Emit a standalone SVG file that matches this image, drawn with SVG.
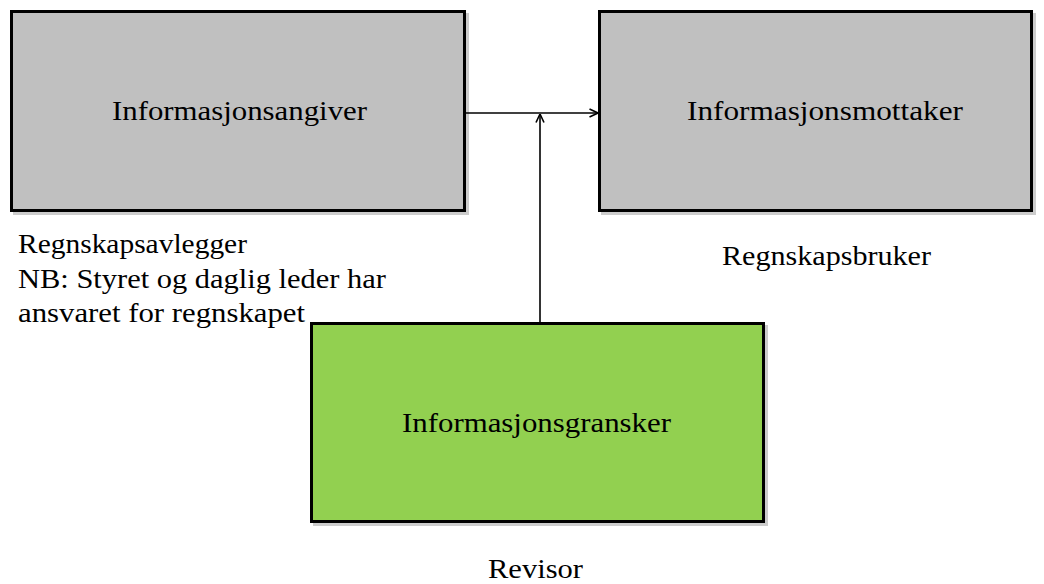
<svg xmlns="http://www.w3.org/2000/svg" width="1044" height="584" viewBox="0 0 1044 584">
  <style>
    .box { stroke: #000; stroke-width: 3; }
    .grey { fill: #c0c0c0; }
    .green { fill: #92d050; }
    .shadow { fill: #9a9a9a; opacity: 0.5; }
    .lbl { font-family: "Liberation Serif", "Times New Roman", serif; font-size: 27px; fill: #000; }
    .conn { stroke: #000; stroke-width: 1.6; fill: none; }
  </style>
  <defs>
    <marker id="open" viewBox="0 0 10 10" refX="9.5" refY="5" markerWidth="10" markerHeight="10" markerUnits="userSpaceOnUse" orient="auto">
      <path d="M1,1 L9.5,5 L1,9" fill="none" stroke="#000" stroke-width="1.6"/>
    </marker>
  </defs>
  <rect width="1044" height="584" fill="#fff"/>

  <g id="informasjonsangiver">
    <rect class="shadow" x="13" y="13" width="456" height="202"/>
    <rect class="box grey" x="11.5" y="11.5" width="453" height="199"/>
    <text class="lbl" x="112" y="120" textLength="255" lengthAdjust="spacingAndGlyphs">Informasjonsangiver</text>
  </g>

  <g id="informasjonsmottaker">
    <rect class="shadow" x="601" y="13" width="435" height="202"/>
    <rect class="box grey" x="599.5" y="11.5" width="432" height="199"/>
    <text class="lbl" x="687" y="120" textLength="276" lengthAdjust="spacingAndGlyphs">Informasjonsmottaker</text>
  </g>

  <g id="informasjonsgransker">
    <rect class="shadow" x="313" y="325" width="455" height="201"/>
    <rect class="box green" x="311.5" y="323.5" width="452" height="198"/>
    <text class="lbl" x="402" y="432" textLength="269" lengthAdjust="spacingAndGlyphs">Informasjonsgransker</text>
  </g>

  <g id="labels">
    <text class="lbl" x="18" y="253" textLength="229" lengthAdjust="spacingAndGlyphs">Regnskapsavlegger</text>
    <text class="lbl" x="18" y="288" textLength="368" lengthAdjust="spacingAndGlyphs">NB: Styret og daglig leder har</text>
    <text class="lbl" x="18" y="322" textLength="287" lengthAdjust="spacingAndGlyphs">ansvaret  for regnskapet</text>
    <text class="lbl" x="722" y="265" textLength="209" lengthAdjust="spacingAndGlyphs">Regnskapsbruker</text>
    <text class="lbl" x="488" y="578" textLength="95" lengthAdjust="spacingAndGlyphs">Revisor</text>
  </g>

  <g id="connectors">
    <line class="conn" x1="466" y1="113" x2="598" y2="113" marker-end="url(#open)"/>
    <line class="conn" x1="540" y1="322" x2="540" y2="114" marker-end="url(#open)"/>
  </g>
</svg>
